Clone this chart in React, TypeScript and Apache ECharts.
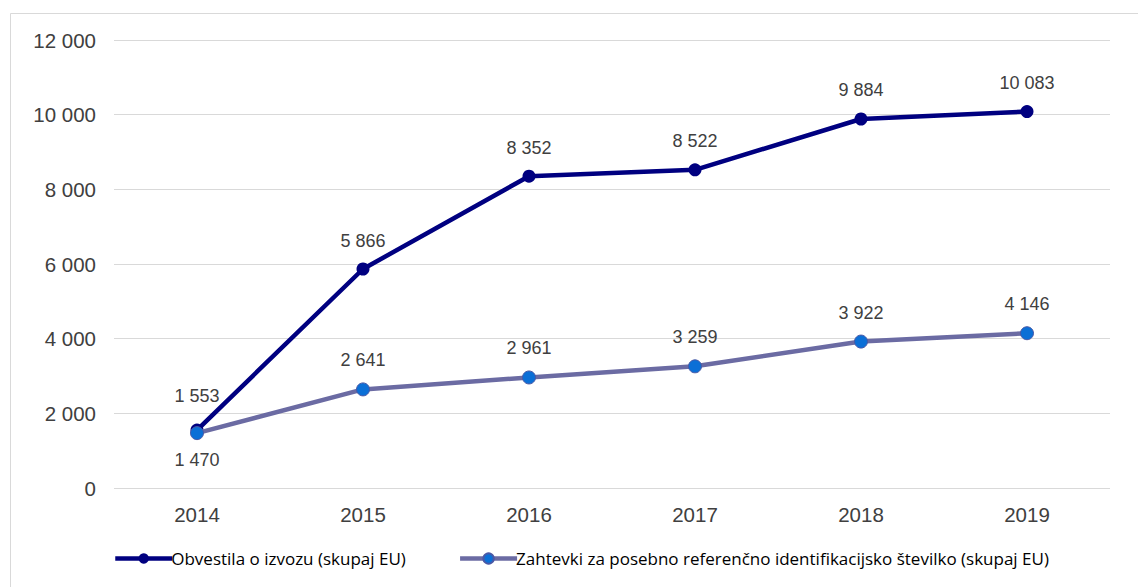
import React, { useEffect, useRef } from "react";
import * as echarts from "echarts";

const years = ["2014", "2015", "2016", "2017", "2018", "2019"];
const seriesNames = [
  "Obvestila o izvozu (skupaj EU)",
  "Zahtevki za posebno referenčno identifikacijsko številko (skupaj EU)",
];
const exportNotices = [1553, 5866, 8352, 8522, 9884, 10083];
const referenceRequests = [1470, 2641, 2961, 3259, 3922, 4146];

const fmt = (v: number) => {
  const s = String(Math.round(v));
  return s.replace(/\B(?=(\d{3})+(?!\d))/g, " ");
};

export default function App() {
  const ref = useRef<HTMLDivElement>(null);
  useEffect(() => {
    const chart = echarts.init(ref.current!, undefined, { renderer: "svg" });
    const textColor = "#404040";
    const font = "'Liberation Sans', Arial, sans-serif";
    const c1 = "#000080";
    const c2 = "#6b6ba3";
    chart.setOption({
      animation: false,
      backgroundColor: "#ffffff",
      graphic: [
        {
          type: "rect",
          shape: { x: 10.5, y: 13.5, width: 1300, height: 700 },
          style: { fill: "none", stroke: "#d9d9d9", lineWidth: 1 },
          silent: true,
        },
      ],
      grid: { left: 114, right: 28, top: 40, bottom: 99, containLabel: false },
      legend: {
        left: 108,
        top: 545,
        itemWidth: 57,
        itemHeight: 13,
        itemGap: 52,
        textStyle: {
          color: "#000000",
          fontSize: 17,
          fontFamily: "'Liberation Sans Narrow', 'Open Sans', sans-serif",
          padding: [0, 0, 0, -6],
        },
        data: [
          {
            name: seriesNames[0],
            lineStyle: { width: 4.5, color: c1 },
            itemStyle: { color: c1 },
          },
          {
            name: seriesNames[1],
            lineStyle: { width: 4.5, color: c2 },
            itemStyle: { color: "#0b6fd6" },
          },
        ],
      },
      xAxis: {
        type: "category",
        data: years,
        boundaryGap: true,
        axisLine: { show: false },
        axisTick: { show: false },
        axisLabel: { color: textColor, fontSize: 20.5, fontFamily: font, margin: 16 },
      },
      yAxis: {
        type: "value",
        min: 0,
        max: 12000,
        interval: 2000,
        axisLine: { show: false },
        axisTick: { show: false },
        splitLine: { lineStyle: { color: "#d9d9d9", width: 1 } },
        axisLabel: {
          color: textColor,
          fontSize: 20.5,
          fontFamily: font,
          margin: 18,
          formatter: (v: number) => fmt(v),
        },
      },
      series: [
        {
          name: seriesNames[0],
          type: "line",
          data: exportNotices.map((v, i) =>
            i === 0 ? { value: v, label: { distance: 19 } } : v
          ),
          symbol: "circle",
          symbolSize: 13,
          z: 3,
          lineStyle: { color: c1, width: 4.5 },
          itemStyle: { color: c1 },
          label: {
            show: true,
            position: "top",
            distance: 13,
            color: textColor,
            fontSize: 18,
            fontFamily: font,
            formatter: (p: any) => fmt(p.value),
          },
        },
        {
          name: seriesNames[1],
          type: "line",
          data: referenceRequests.map((v, i) =>
            i === 0
              ? { value: v, label: { position: "bottom", distance: 11 } }
              : v
          ),
          symbol: "circle",
          symbolSize: 13,
          z: 4,
          lineStyle: { color: c2, width: 4.5 },
          itemStyle: { color: "#0b6fd6", borderColor: "#4a59a6", borderWidth: 1 },
          label: {
            show: true,
            position: "top",
            distance: 13,
            color: textColor,
            fontSize: 18,
            fontFamily: font,
            formatter: (p: any) => fmt(p.value),
          },
        },
      ],
    });
    return () => chart.dispose();
  }, []);
  return (
    <div
      ref={ref}
      style={{ position: "absolute", left: 0, top: 0, width: 1138, height: 587 }}
    />
  );
}
